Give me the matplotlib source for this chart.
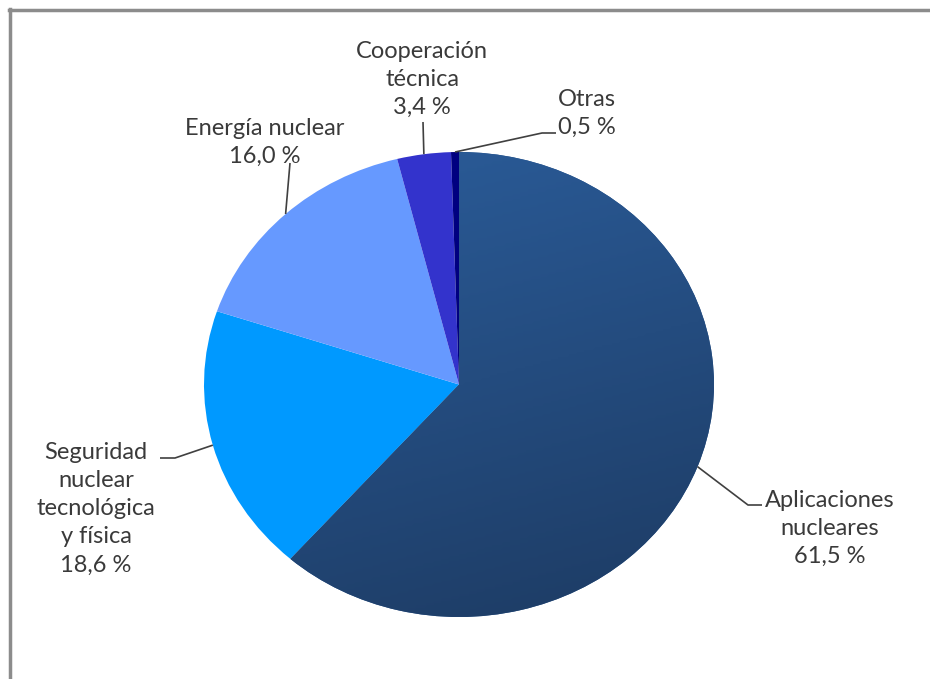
import numpy as np
import matplotlib
matplotlib.use("Agg")
import matplotlib.pyplot as plt
from matplotlib.lines import Line2D
from matplotlib.colors import LinearSegmentedColormap

# ---- data ----
categories = ["Aplicaciones\nnucleares", "Seguridad\nnuclear\ntecnológica\ny física",
              "Energía nuclear", "Cooperación\ntécnica", "Otras"]
values = [61.5, 18.6, 16.0, 3.4, 0.5]
value_labels = ["61,5 %", "18,6 %", "16,0 %", "3,4 %", "0,5 %"]
colors = ["#28558E", "#0099FF", "#6699FF", "#3333CC", "#000080"]

W, H = 930, 679
fig = plt.figure(figsize=(W / 100, H / 100), dpi=100)
ax = fig.add_axes([0, 0, 1, 1])

CX, CY, RX, RY = 459, 384.5, 255, 232.5


def P(px, py):
    return ((px - CX) / RX, (CY - py) / RY)


wedges, _ = ax.pie(values, colors=colors, startangle=90, counterclock=False,
                   radius=1, center=(0, 0), wedgeprops=dict(linewidth=0))
ax.set_aspect("auto")
x0, _ = P(0, 0)
x1, _ = P(W, 0)
_, y0 = P(0, H)
_, y1 = P(0, 0)
ax.set_xlim(x0, x1)
ax.set_ylim(y0, y1)
ax.axis("off")

# gradient fill for the main slice
cmap = LinearSegmentedColormap.from_list("g", ["#1D3B63", "#2B5D9B"])
gy, gx = np.mgrid[-1:1:200j, -1:1:200j]
grad = (gy * 0.85 - gx * 0.25)
im = ax.imshow(grad, cmap=cmap, extent=(-1, 1, -1, 1), origin="lower",
               aspect="auto", zorder=wedges[0].get_zorder() + 0.1)
im.set_clip_path(wedges[0])

# labels and leader lines
tcol = "#3A3A3A"
fs = 17
ls = 1.42
cum = np.cumsum([0] + values)
tot = sum(values)


def edge_point(i):
    mid = (cum[i] + cum[i + 1]) / 2 / tot
    ang = np.deg2rad(90 - 360 * mid)
    return np.cos(ang), np.sin(ang)


# (label center px, label top-line center py, polyline points in px)
layout = [
    (830, 500, [(748, 505), (762, 505)]),
    (96, 452, [(175, 458), (160, 458)]),
    (265, 128, [(290, 163)]),
    (422, 51, [(423, 122)]),
    (587, 99, [(542, 133), (556, 133)]),
]

for i, (tx, ty, pts) in enumerate(layout):
    ex, ey = edge_point(i)
    xs = [ex] + [P(*p)[0] for p in pts]
    ys = [ey] + [P(*p)[1] for p in pts]
    ax.plot(xs, ys, color="#404040", lw=1.2, zorder=5, solid_capstyle="butt")
    txt = categories[i] + "\n" + value_labels[i]
    lx, ly = P(tx, ty - 10)
    ax.text(lx, ly, txt, ha="center", va="top", fontsize=fs, color=tcol,
            family=["Lato", "DejaVu Sans"], linespacing=ls, zorder=6)

# frame lines (top and left)
c = "#8C8C8C"
fig.add_artist(Line2D([8.5 / W, 1], [1 - 10 / H, 1 - 10 / H], color=c, lw=2.5,
                      transform=fig.transFigure))
fig.add_artist(Line2D([9.5 / W, 9.5 / W], [0, 1 - 9 / H], color=c, lw=2.5,
                      transform=fig.transFigure))

fig.savefig("out.png", dpi=100, facecolor="white")
